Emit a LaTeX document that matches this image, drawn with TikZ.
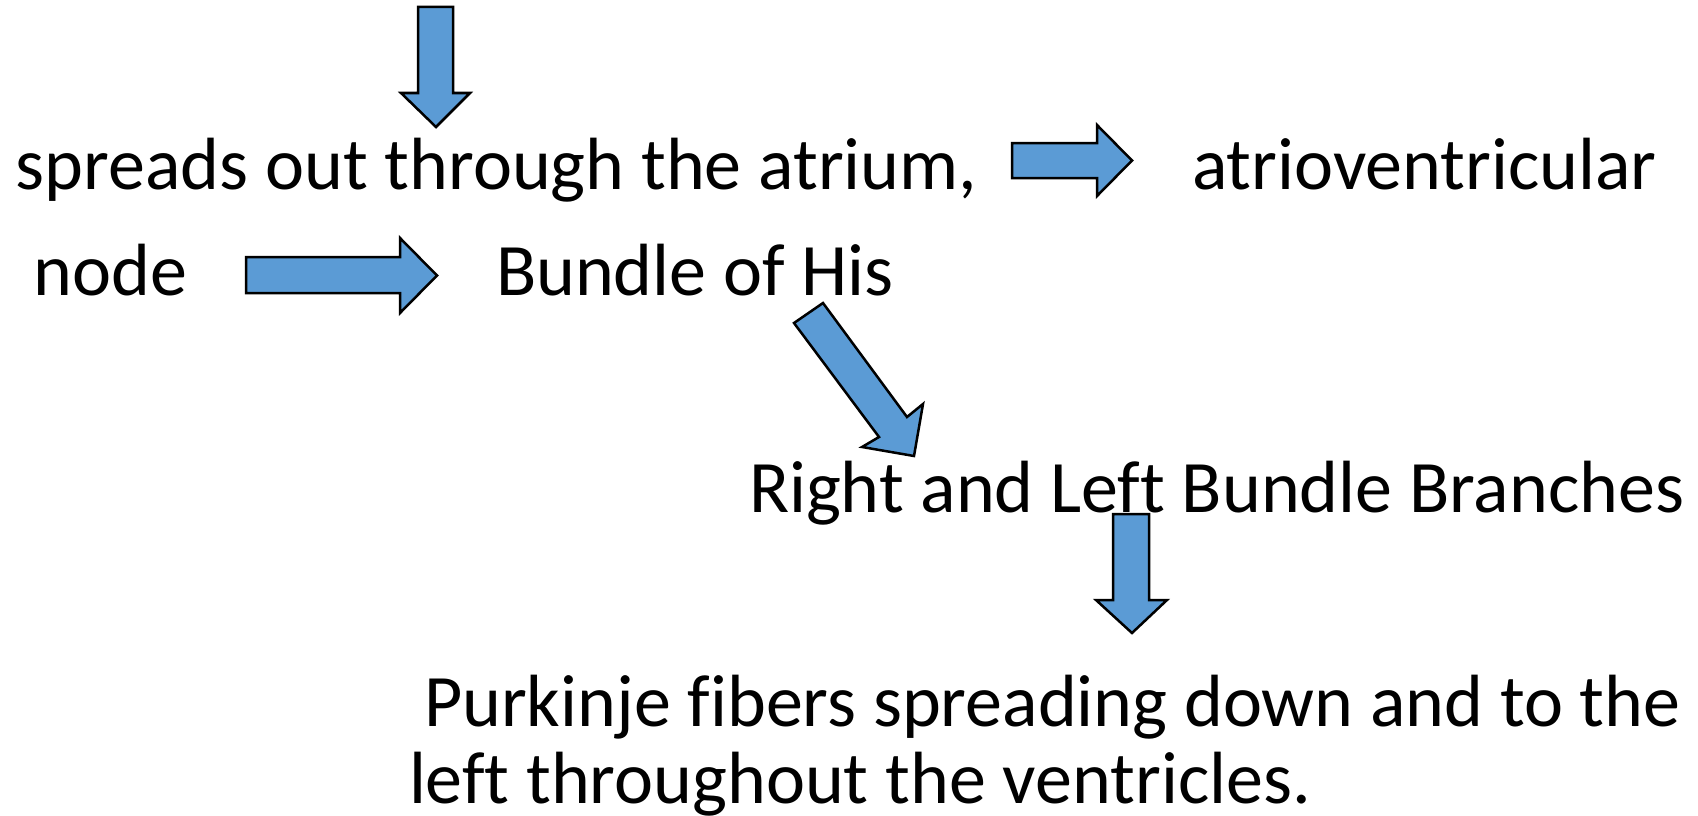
\documentclass[tikz,border=0pt]{standalone}
\usepackage{fontspec}
\setmainfont[Ligatures={NoCommon}]{Carlito}
\definecolor{arrowblue}{HTML}{5B9BD5}
\begin{document}
\begin{tikzpicture}[x=1pt,y=-1pt,
  lbl/.style={anchor=base west,inner sep=0pt,outer sep=0pt,font=\fontsize{74}{89}\selectfont},
  blockarrow/.style={draw=black,fill=arrowblue,line width=2.5pt,line join=miter}]
\useasboundingbox (0,0) rectangle (1698,816);
% texts
\node[lbl] (atrium) at (16,189) {spreads out through the atrium,};
\node[lbl] (av) at (1192,189) {atrioventricular};
\node[lbl] (node) at (34,295) {node};
\node[lbl] (his) at (496,295) {Bundle of His};
\node[lbl] (branches) at (749,512) {Right and Left Bundle Branches};
\node[lbl] (purk) at (424,726) {Purkinje fibers spreading down and to the};
\node[lbl] (purk2) at (409,803) {left throughout the ventricles.};
% block arrows
\draw[blockarrow] (418,7) -- (453,7) -- (453,93) -- (470,93) -- (436,127) -- (401,93) -- (418,93) -- cycle;
\draw[blockarrow] (1012,143) -- (1097,143) -- (1097,125) -- (1132,160.5) -- (1097,196) -- (1097,178) -- (1012,178) -- cycle;
\draw[blockarrow] (246,257) -- (400,257) -- (400,238) -- (437,275.5) -- (400,313) -- (400,293) -- (246,293) -- cycle;
\draw[blockarrow] (823,303) -- (907,417) -- (923,404) -- (914,456) -- (862,447) -- (879,437) -- (794,323) -- cycle;
\draw[blockarrow] (1113,514) -- (1149,514) -- (1149,600) -- (1167,600) -- (1132,633) -- (1096,600) -- (1113,600) -- cycle;
\end{tikzpicture}
\end{document}
